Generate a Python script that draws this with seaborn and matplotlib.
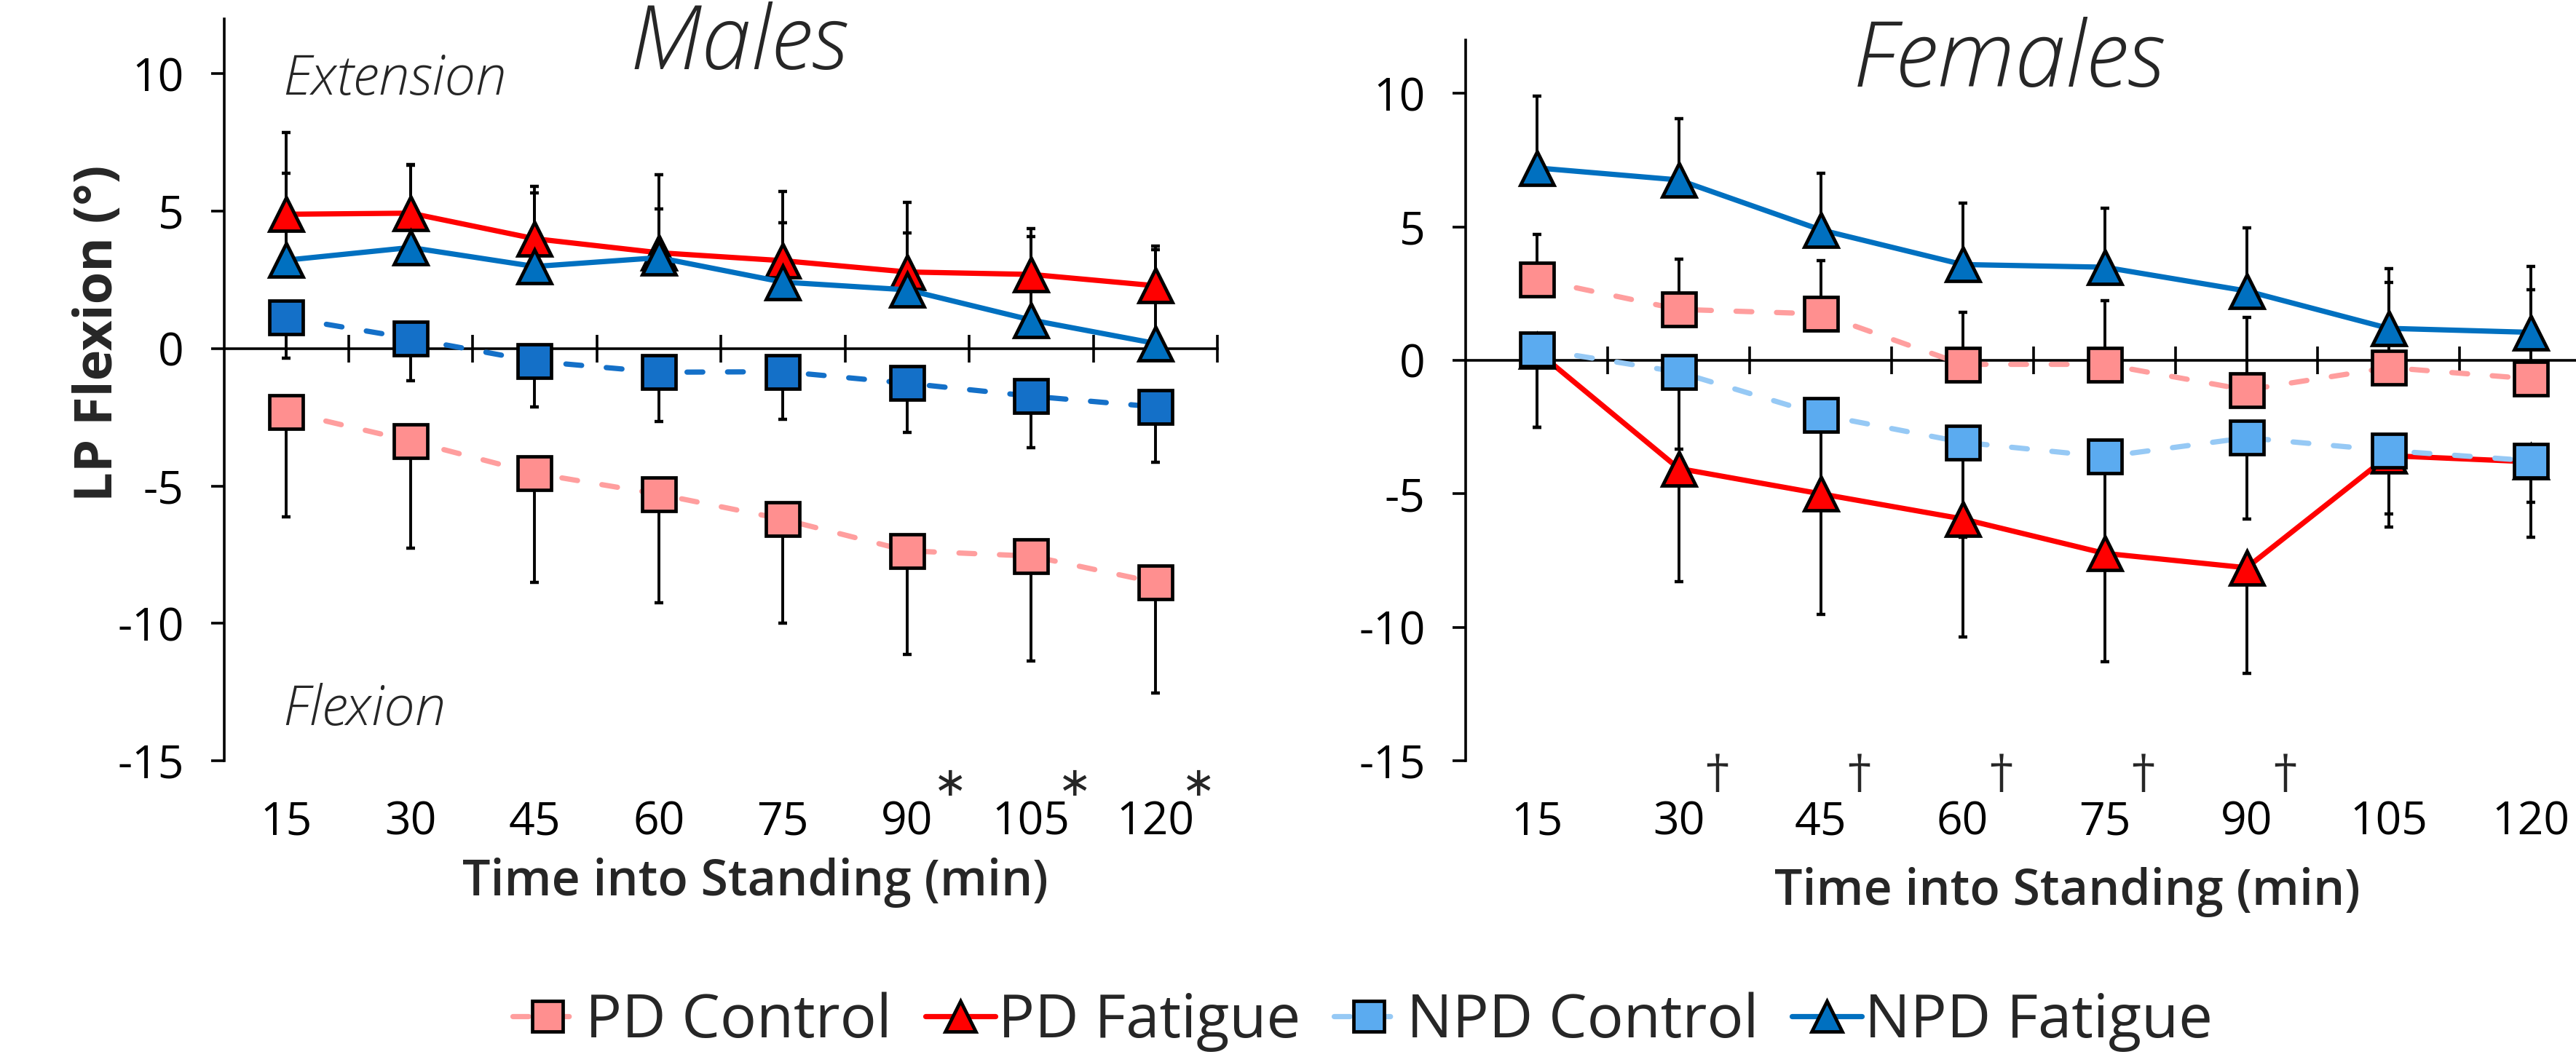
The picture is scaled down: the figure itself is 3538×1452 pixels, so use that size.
import numpy as np
import pandas as pd
import matplotlib
matplotlib.use("Agg")
import matplotlib.pyplot as plt
from matplotlib.lines import Line2D
import seaborn as sns

# ---------------- data ----------------
times = ["15", "30", "45", "60", "75", "90", "105", "120"]
series_names = ["PD Control", "PD Fatigue", "NPD Control", "NPD Fatigue"]

# Males (mean, one-sided error)
m_pd_control = [-2.30, -3.36, -4.54, -5.30, -6.21, -7.36, -7.55, -8.51]
m_pd_control_err = [3.83, 3.91, 3.97, 3.96, 3.77, 3.76, 3.81, 4.02]
m_pd_fatigue = [4.89, 4.93, 4.00, 3.49, 3.20, 2.79, 2.70, 2.29]
m_pd_fatigue_err = [2.97, 1.76, 1.91, 1.60, 1.39, 1.43, 1.67, 1.45]
m_npd_control = [1.13, 0.37, -0.46, -0.86, -0.84, -1.26, -1.73, -2.12]
m_npd_control_err = [1.48, 1.54, 1.66, 1.80, 1.72, 1.79, 1.88, 2.01]
m_npd_fatigue = [3.22, 3.68, 2.99, 3.31, 2.42, 2.14, 1.04, 0.19]
m_npd_fatigue_err = [3.16, 3.00, 2.68, 3.03, 3.30, 3.18, 3.05, 3.40]

# Females
f_pd_control = [3.03, 1.91, 1.74, -0.15, -0.15, -1.11, -0.27, -0.69]
f_pd_control_err = [1.70, 1.87, 2.00, 1.94, 2.40, 2.71, 3.19, 3.34]
f_pd_fatigue = [0.35, -4.05, -5.00, -5.94, -7.23, -7.77, -3.57, -3.80]
f_pd_fatigue_err = [2.85, 4.25, 4.52, 4.42, 4.05, 3.97, 2.19, 1.52]
f_npd_control = [0.42, -0.44, -2.04, -3.07, -3.61, -2.90, -3.38, -3.76]
f_npd_control_err = [2.92, 2.90, 3.00, 3.55, 3.60, 3.05, 2.86, 2.86]
f_npd_fatigue = [7.21, 6.76, 4.89, 3.59, 3.49, 2.60, 1.20, 1.05]
f_npd_fatigue_err = [2.69, 2.29, 2.13, 2.29, 2.20, 2.36, 2.25, 2.46]

males_sig = ["90", "105", "120"]          # marked with *
females_sig = ["30", "45", "60", "75", "90"]  # marked with dagger

# ---------------- style ----------------
sns.set_theme(style="white")
FONT = ["Open Sans", "DejaVu Sans"]
plt.rcParams["font.family"] = FONT
plt.rcParams["axes.unicode_minus"] = False

RED = "#FF0000"
PINK_FILL = "#FF8F8F"
PINK_LINE = "#FF9E9E"
DBLUE = "#0070C0"
MBLUE = "#1470C8"
LBLUE_FILL = "#5BABF0"
LBLUE_LINE = "#96C9F5"

MS = 33
MEW = 3.4
LW = 5.2
DASH = (3.0, 4.7)

fig = plt.figure(figsize=(35.38, 14.52), dpi=100)
axM = fig.add_axes([0.0871, 0.2803, 0.3855, 0.7018])
axF = fig.add_axes([0.5690, 0.2803, 0.4409, 0.6818])

x = np.arange(len(times))


def draw_series(ax, mean, err, direction, fill, line, marker, dashed, z):
    mean = np.asarray(mean)
    err = np.asarray(err)
    if direction > 0:
        yerr = [np.zeros_like(err), err]
    else:
        yerr = [err, np.zeros_like(err)]
    ax.errorbar(x, mean, yerr=yerr, fmt="none", ecolor="black",
                elinewidth=2.8, capsize=4.5, capthick=3.2, zorder=2)
    df = pd.DataFrame({"t": x, "v": mean})
    sns.lineplot(data=df, x="t", y="v", ax=ax, color=line, linewidth=LW,
                 marker=marker, markersize=MS, markerfacecolor=fill,
                 markeredgecolor="black", markeredgewidth=MEW,
                 zorder=z, legend=False, solid_capstyle="round")
    ln = ax.lines[-1]
    if dashed:
        ln.set_dashes(DASH)
        ln.set_dash_capstyle("round")
    ln.set_solid_joinstyle("round")


# Males
draw_series(axM, m_pd_control, m_pd_control_err, -1, PINK_FILL, PINK_LINE, "s", True, 3)
draw_series(axM, m_pd_fatigue, m_pd_fatigue_err, +1, RED, RED, "^", False, 4)
draw_series(axM, m_npd_control, m_npd_control_err, -1, MBLUE, MBLUE, "s", True, 5)
draw_series(axM, m_npd_fatigue, m_npd_fatigue_err, +1, DBLUE, DBLUE, "^", False, 6)

# Females
draw_series(axF, f_pd_control, f_pd_control_err, +1, PINK_FILL, PINK_LINE, "s", True, 3)
draw_series(axF, f_pd_fatigue, f_pd_fatigue_err, -1, RED, RED, "^", False, 4)
draw_series(axF, f_npd_control, f_npd_control_err, -1, LBLUE_FILL, LBLUE_LINE, "s", True, 5)
draw_series(axF, f_npd_fatigue, f_npd_fatigue_err, +1, DBLUE, DBLUE, "^", False, 6)

TICK_FS = 45
for ax in (axM, axF):
    ax.set_xlim(-0.5, len(times) - 0.5)
    ax.set_ylim(-15, 12)
    ax.set_yticks([-15, -10, -5, 0, 5, 10])
    ax.set_yticklabels(["-15", "-10", "-5", "0", "5", "10"])
    ax.set_xticks(x)
    ax.set_xticklabels(times)
    for s in ("top", "right", "bottom"):
        ax.spines[s].set_visible(False)
    ax.spines["left"].set_linewidth(2.6)
    ax.spines["left"].set_color("black")
    ax.tick_params(axis="y", direction="out", length=13, width=2.6,
                   pad=27, labelsize=TICK_FS, colors="black", left=True)
    ax.tick_params(axis="x", length=0, pad=39, labelsize=TICK_FS, colors="black")
    ax.set_xlabel("")
    ax.set_ylabel("")
    ax.patch.set_alpha(0)
    # zero line with category boundary ticks
    sec = ax.secondary_xaxis(15 / 27)
    sec.set_xticks(np.arange(len(times)) + 0.5)
    sec.tick_params(direction="inout", length=28, width=2.6, labeltop=False,
                    labelbottom=False, colors="black")
    for s in sec.spines.values():
        s.set_linewidth(2.6)
        s.set_color("black")

XL_FS = 49
axM.set_xlabel("Time into Standing (min)", fontsize=XL_FS, fontweight="semibold", va="center")
axM.xaxis.set_label_coords(0.535, -0.164)
axF.set_xlabel("Time into Standing (min)", fontsize=XL_FS, fontweight="semibold", va="center")
axF.xaxis.set_label_coords(0.5295, -0.182)
fig.text(135 / 3538, 1 - 458 / 1452, "LP Flexion (°)", fontsize=52, fontweight="bold",
         rotation=90, ha="center", va="center")

axM.set_title("Males", fontsize=88, fontstyle="italic", fontweight="light",
              x=0.518, y=0.955, va="center")
axF.set_title("Females", fontsize=90, fontstyle="italic", fontweight="light",
              x=0.478, y=0.96, va="center")

axM.text(0.059, 0.917, "Extension", transform=axM.transAxes, fontsize=55,
         fontstyle="italic", fontweight="light", va="center", ha="left")
axM.text(0.059, 0.067, "Flexion", transform=axM.transAxes, fontsize=55,
         fontstyle="italic", fontweight="light", va="center", ha="left")

for t in males_sig:
    i = times.index(t)
    axM.annotate("∗", xy=(i + 0.35, -15), xytext=(0, -24), textcoords="offset points",
                 ha="center", va="center", fontsize=40, fontweight="normal",
                 family="DejaVu Sans", annotation_clip=False)
for t in females_sig:
    i = times.index(t)
    axF.annotate("†", xy=(i + 0.27, -15), xytext=(0, -14), textcoords="offset points",
                 ha="center", va="center", fontsize=46, family="DejaVu Serif",
                 annotation_clip=False)

# legend
handles = [
    Line2D([], [], color=PINK_LINE, lw=LW, dashes=DASH, dash_capstyle="round",
           marker="s", ms=MS * 0.9, mfc=PINK_FILL, mec="black", mew=MEW),
    Line2D([], [], color=RED, lw=LW, marker="^", ms=MS * 0.9, mfc=RED,
           mec="black", mew=MEW, solid_capstyle="round"),
    Line2D([], [], color=LBLUE_LINE, lw=LW, dashes=DASH, dash_capstyle="round",
           marker="s", ms=MS * 0.9, mfc=LBLUE_FILL, mec="black", mew=MEW),
    Line2D([], [], color=DBLUE, lw=LW, marker="^", ms=MS * 0.9, mfc=DBLUE,
           mec="black", mew=MEW, solid_capstyle="round"),
]
fig.legend(handles, series_names, loc="center", bbox_to_anchor=(0.529, 0.033),
           ncol=4, frameon=False, handlelength=1.15,
           handletextpad=0.05, columnspacing=0.55, prop={"size": 60})

fig.savefig("out.png", dpi=100, facecolor="white")
